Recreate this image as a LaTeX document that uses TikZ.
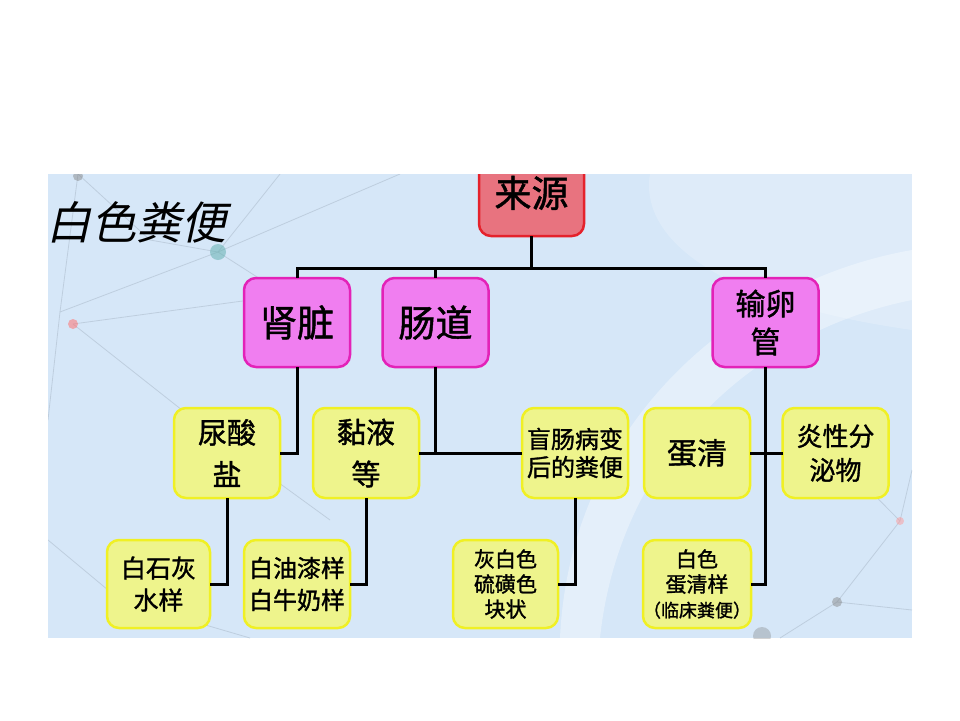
\documentclass[tikz,border=0pt]{standalone}
\usepackage{fontspec}
\newfontfamily\cjk[FakeBold=1.3]{Noto Sans CJK SC}
\newfontfamily\cjkit[FakeSlant=0.22]{Noto Sans CJK SC}
\definecolor{panelbg}{HTML}{D6E7F8}
\definecolor{netline}{HTML}{B4C4D4}
\definecolor{redfill}{HTML}{E8737F}
\definecolor{reddraw}{HTML}{E5222C}
\definecolor{pinkfill}{HTML}{F07EF0}
\definecolor{pinkdraw}{HTML}{E322B8}
\definecolor{yelfill}{HTML}{EEF48C}
\definecolor{yeldraw}{HTML}{F0F024}
\tikzset{
  boxbase/.style={rectangle, rounded corners=12pt, line width=2.5pt, inner sep=0pt, align=center, text=black},
  rootbox/.style={boxbase, fill=redfill, draw=reddraw, minimum width=105pt, minimum height=86pt,
    font=\cjk\fontsize{37}{42}\selectfont},
  topbox/.style={boxbase, fill=pinkfill, draw=pinkdraw, minimum width=106pt, minimum height=89pt},
  midbox/.style={boxbase, fill=yelfill, draw=yeldraw, minimum width=106pt, minimum height=90pt},
  lowbox/.style={boxbase, fill=yelfill, draw=yeldraw, minimum width=105pt, minimum height=88pt},
  conn/.style={line width=3pt, black, line cap=rect},
  net/.style={netline, line width=0.8pt, opacity=0.7},
  netdot/.style={circle, inner sep=0pt, minimum size=#1, opacity=0.6},
}
\begin{document}
\begin{tikzpicture}[x=1pt,y=-1pt]
\useasboundingbox (0,0) rectangle (960,720);
\fill[white] (0,0) rectangle (960,720);
\fill[panelbg] (48,174) rectangle (912,638);
\begin{scope}
\clip (48,174) rectangle (912,638);
% faint light swoosh on the right
\fill[white, opacity=0.35] (600,638) .. controls (620,450) and (760,330) .. (912,300) -- (912,250) .. controls (740,280) and (570,420) .. (560,638) -- cycle;
\fill[white, opacity=0.2] (650,174) .. controls (640,230) and (700,300) .. (912,330) -- (912,174) -- cycle;
% faint background network
\draw[net] (60,312) -- (218,252) -- (400,174);
\draw[net] (60,312) -- (78,174);
\draw[net] (60,312) -- (48,420);
\draw[net] (73,324) -- (220,440) -- (330,520);
\draw[net] (73,324) -- (250,300);
\draw[net] (218,252) -- (280,174);
\draw[net] (218,252) -- (340,330);
\draw[net] (78,174) -- (150,240) -- (218,252);
\draw[net] (48,540) -- (120,600) -- (250,638);
\draw[net] (837,602) -- (900,521) -- (912,470);
\draw[net] (837,602) -- (780,638);
\draw[net] (837,602) -- (912,610);
\draw[net] (900,521) -- (820,440);
\fill[gray, opacity=0.45] (78,176) circle (5pt);
\fill[teal!60!white, opacity=0.55] (218,252) circle (8pt);
\fill[red!55!white, opacity=0.55] (73,324) circle (5pt);
\fill[olive!30!white, opacity=0.5] (118,592) circle (6pt);
\fill[gray, opacity=0.45] (837,602) circle (5pt);
\fill[red!40!white, opacity=0.5] (900,521) circle (4pt);
\fill[gray, opacity=0.35] (762,636) circle (9pt);
\node[rootbox] (src) at (531.5,193) {来源};
\node[anchor=west, inner sep=0pt, font=\cjkit\fontsize{45}{50}\selectfont] (title) at (46,222) {白色粪便};
\end{scope}

\node[topbox, font=\cjk\fontsize{37}{42}\selectfont] (kidney) at (297,322.5) {肾脏};
\node[topbox, font=\cjk\fontsize{37}{42}\selectfont] (gut) at (435.5,322.5) {肠道};
\node[topbox, font=\cjk\fontsize{30}{38}\selectfont] (ovi) at (765.5,322.5) {输卵\\管};

\node[midbox, font=\cjk\fontsize{29}{42}\selectfont] (urate) at (227,453) {尿酸\\盐};
\node[midbox, font=\cjk\fontsize{29}{42}\selectfont] (mucus) at (366,453) {黏液\\等};
\node[midbox, font=\cjk\fontsize{24}{28}\selectfont] (cecum) at (575,453) {盲肠病变\\后的粪便};
\node[midbox, font=\cjk\fontsize{30}{36}\selectfont] (egg) at (697,453) {蛋清};
\node[midbox, font=\cjk\fontsize{26}{34}\selectfont] (infl) at (835.5,453) {炎性分\\泌物};

\node[lowbox, minimum width=103pt, font=\cjk\fontsize{25}{32}\selectfont] (lime) at (158.5,584) {白石灰\\水样};
\node[lowbox, minimum width=106pt, font=\cjk\fontsize{24}{32}\selectfont] (paint) at (297,584) {白油漆样\\白牛奶样};
\node[lowbox, font=\cjk\fontsize{21}{25}\selectfont] (gray) at (505.5,584) {灰白色\\硫磺色\\块状};
\node[lowbox, minimum width=106pt, font=\cjk\fontsize{21}{25}\selectfont] (white) at (697,584) {白色\\蛋清样\\{\fontsize{18}{25}\selectfont （临床粪便）}};

\coordinate (bus) at (531.5,268);
\draw[conn] (src.south) -- (src.south |- bus);
\draw[conn] (kidney.north) -- (kidney.north |- bus) -- (ovi.north |- bus) -- (ovi.north);
\draw[conn] (gut.north) -- (gut.north |- bus);

\draw[conn] (kidney.south) -- (kidney.south |- urate.east) -- (urate.east);
\draw[conn] (gut.south) -- (gut.south |- mucus.east);
\draw[conn] (mucus.east) -- (cecum.west);
\draw[conn] (ovi.south) -- (ovi.south |- white.east) -- (white.east);
\draw[conn] (egg.east) -- (infl.west);

\draw[conn] (urate.south) -- (urate.south |- lime.east) -- (lime.east);
\draw[conn] (mucus.south) -- (mucus.south |- paint.east) -- (paint.east);
\draw[conn] (cecum.south) -- (cecum.south |- gray.east) -- (gray.east);
\end{tikzpicture}
\end{document}
